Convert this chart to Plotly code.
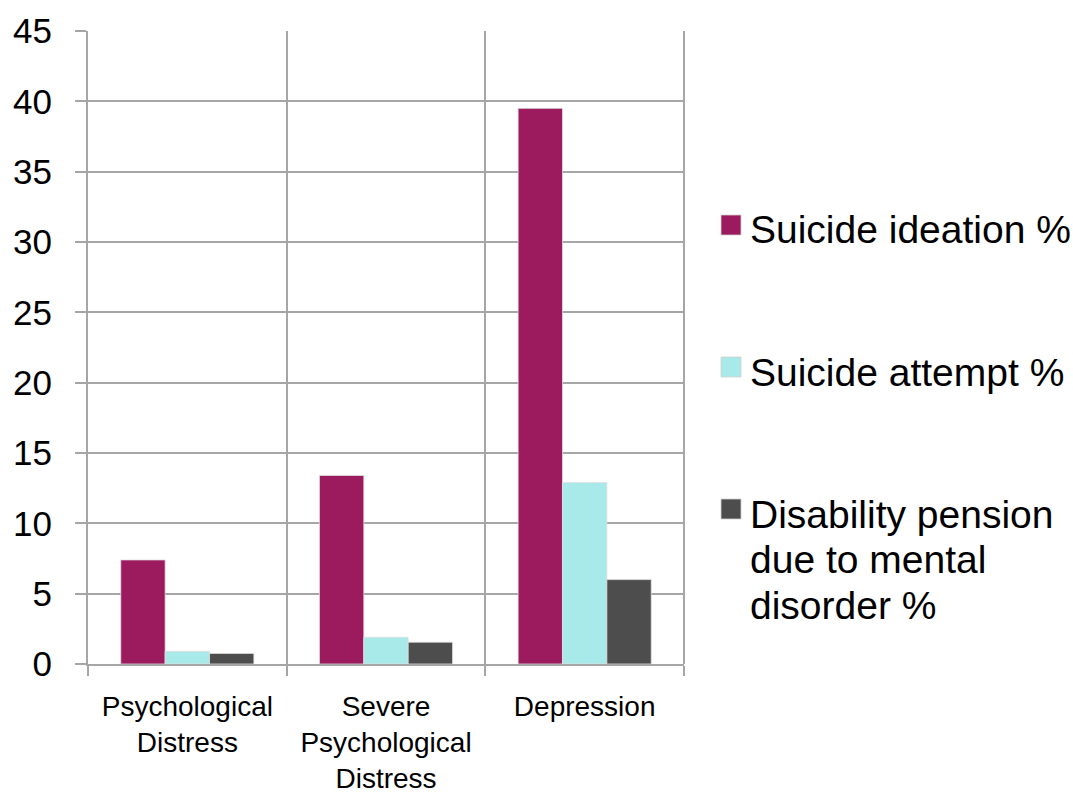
import plotly.graph_objects as go

categories = ["Psychological<br>Distress", "Severe<br>Psychological<br>Distress", "Depression"]
series_names = ["Suicide ideation %", "Suicide attempt %", "Disability pension<br>due to mental<br>disorder %"]
ideation = [7.4, 13.4, 39.5]
attempt = [0.9, 1.9, 12.9]
disability = [0.75, 1.55, 6.0]
colors = ["#9C1A5E", "#A8E9EA", "#4D4D4D"]
y_ticks = [0, 5, 10, 15, 20, 25, 30, 35, 40, 45]

W, H = 1073, 796
L, R, T, B = 88, 389, 31, 132
pw, ph = W - L - R, H - T - B


def px(x):
    return (x - L) / pw


def py(y):
    return (H - B - y) / ph


fig = go.Figure()
for i, (name, vals) in enumerate(zip(series_names, [ideation, attempt, disability])):
    fig.add_trace(go.Bar(
        x=categories, y=vals, name=name.replace("<br>", " "),
        marker=dict(color=colors[i], line=dict(color="#E0E0E0", width=0.8)),
        showlegend=False,
    ))

# manual legend (square swatch + text lines)
legend_tops = [215, 357, 499]
line_step = 45.5
for i, name in enumerate(series_names):
    top = legend_tops[i]
    fig.add_shape(type="rect", xref="paper", yref="paper",
                  x0=px(721), x1=px(741), y0=py(top + 20), y1=py(top),
                  fillcolor=colors[i], line=dict(color="#D0D0D0", width=0.8))
    for j, line in enumerate(name.split("<br>")):
        fig.add_annotation(xref="paper", yref="paper", x=px(748), y=py(top + 15 + j * line_step),
                           xanchor="left", yanchor="middle", showarrow=False, text=line,
                           font=dict(size=39, color="black"))

fig.update_layout(
    width=W, height=H,
    margin=dict(l=L, r=R, t=T, b=B),
    paper_bgcolor="white", plot_bgcolor="white",
    barmode="group", bargap=0.33, bargroupgap=0,
    font=dict(family="Liberation Sans, Arial, Helvetica, sans-serif", color="black"),
    showlegend=False,
    xaxis=dict(
        type="category", tickson="boundaries", ticks="outside", ticklen=10,
        tickcolor="#A6A6A6", tickwidth=2,
        showgrid=True, gridcolor="#A6A6A6", gridwidth=2,
        showline=True, linecolor="#A6A6A6", linewidth=2,
        tickfont=dict(size=28, color="black"), ticklabelstandoff=16,
        automargin=False,
    ),
    yaxis=dict(
        range=[0, 45], tickvals=y_ticks, ticks="outside", ticklen=11,
        tickcolor="#A6A6A6", tickwidth=2,
        showgrid=True, gridcolor="#A6A6A6", gridwidth=2,
        showline=True, linecolor="#A6A6A6", linewidth=2,
        tickfont=dict(size=35, color="black"), zeroline=False, ticklabelstandoff=16,
        automargin=False,
    ),
)
fig.add_shape(type="line", xref="paper", yref="paper", x0=1, x1=1, y0=0, y1=1,
              line=dict(color="#A6A6A6", width=2))

fig.write_html("out.html")
